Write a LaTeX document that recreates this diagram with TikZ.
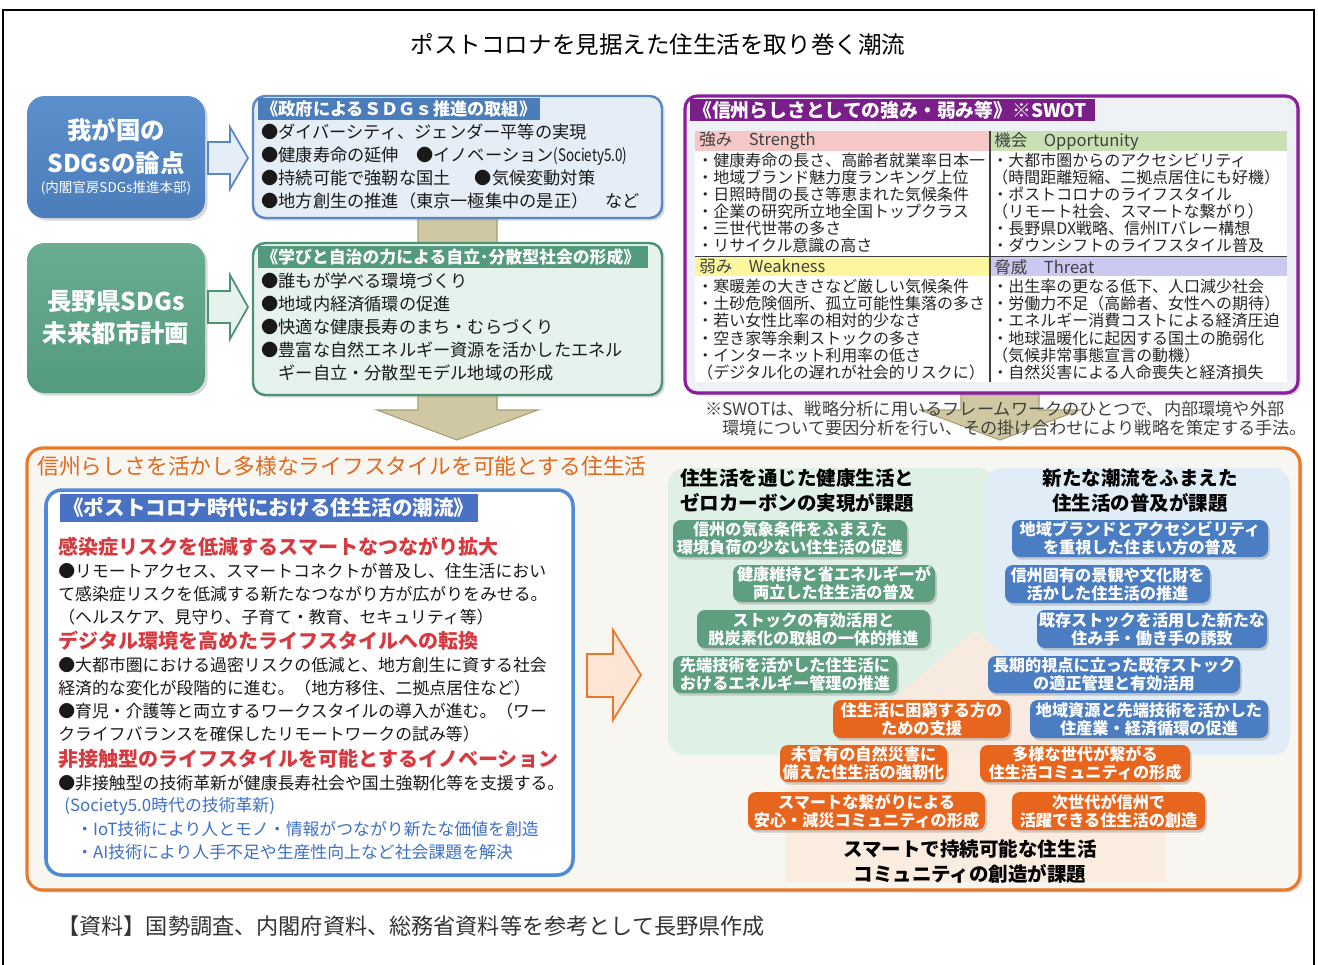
\documentclass[tikz,border=0pt]{standalone}
\usepackage{fontspec}
\setmainfont{Noto Sans CJK JP}
\usepackage{graphicx}
\usetikzlibrary{fit,shadows}

\newcommand{\fsz}[2]{\fontsize{#1}{#2}\selectfont}

\definecolor{sdgblue}{HTML}{4A7DBA}
\definecolor{sdgbluetop}{HTML}{5C8FCB}
\definecolor{sdgbluelight}{HTML}{E5EDF7}
\definecolor{sdgblueline}{HTML}{5B87C3}
\definecolor{sdggreen}{HTML}{549A7C}
\definecolor{sdggreentop}{HTML}{68AD8F}
\definecolor{sdggreenlight}{HTML}{E6F3EC}
\definecolor{sdggreenline}{HTML}{4E9274}
\definecolor{tanfill}{HTML}{CFC8A2}
\definecolor{tanline}{HTML}{A59D74}
\definecolor{swotpurple}{HTML}{8A1E9B}
\definecolor{swotband}{HTML}{7A1F8A}
\definecolor{swotbg}{HTML}{EEF1F5}
\definecolor{pinkhead}{HTML}{F6C7C7}
\definecolor{greenhead}{HTML}{C8E0B3}
\definecolor{yellowhead}{HTML}{FCF69E}
\definecolor{lavhead}{HTML}{CBC9F0}
\definecolor{lifeorange}{HTML}{E8792A}
\definecolor{lifebg}{HTML}{F8F6F1}
\definecolor{titleorange}{HTML}{E2681E}
\definecolor{trendblue}{HTML}{4E8AD8}
\definecolor{trendband}{HTML}{4A72C4}
\definecolor{redhead}{HTML}{D63A40}
\definecolor{bluetext}{HTML}{3E70C6}
\definecolor{pillgreen}{HTML}{5E9F80}
\definecolor{pillblue}{HTML}{4B7DC2}
\definecolor{pillorange}{HTML}{E8651E}
\definecolor{bgmint}{HTML}{DFF1E6}
\definecolor{bgsky}{HTML}{E0EDF6}
\definecolor{bgpeach}{HTML}{FCEADC}
\definecolor{arroworange}{HTML}{E8772A}
\definecolor{arrowpeach}{HTML}{FDE6D6}

\tikzset{
  boxshadow/.style={drop shadow={shadow xshift=1.5pt, shadow yshift=-1.5pt, opacity=0.3}},
  leftbox/.style={rounded corners=10pt, inner sep=0pt, boxshadow},
  lefttext/.style={text=white, font=\bfseries\fsz{13.9}{16}, inner sep=0pt},
  panel/.style={rounded corners=7pt, line width=1.4pt, inner sep=0pt, boxshadow},
  band/.style={inner sep=0pt},
  bandtext/.style={anchor=west, text=white, inner sep=0pt},
  bodytext/.style={anchor=west, align=left, inner sep=0pt, text=black!90},
  swottext/.style={anchor=west, align=left, inner sep=0pt, text=black!85, font=\fsz{9.1}{9.75}},
  swothead/.style={anchor=west, inner sep=0pt, text=black!75, font=\fsz{9.4}{10}},
  tanarrow/.style={fill=tanfill, draw=tanline, line width=0.6pt},
  pill/.style={rounded corners=4.5pt, inner sep=0pt,
    drop shadow={shadow xshift=1pt, shadow yshift=-1.5pt, opacity=0.35}},
  pilltext/.style={inner sep=0pt, align=center, text=white, font=\bfseries\fsz{9.2}{10.3}},
  greenpill/.style={pill, fill=pillgreen},
  bluepill/.style={pill, fill=pillblue},
  orangepill/.style={pill, fill=pillorange},
  heading/.style={inner sep=0pt, font=\bfseries\fsz{11.1}{14.2}}
}

\begin{document}
\begin{tikzpicture}[x=0.02cm, y=-0.02cm]
  \useasboundingbox (0,0) rectangle (1318,964);

  % outer frame
  \draw[black, line width=1.2pt] (3,10) rectangle (1314,990);

  % title
  \node (title) [font=\fsz{13.4}{15}, inner sep=0pt] at (658,44) {ポストコロナを見据えた住生活を取り巻く潮流};

  % tan arrows down to the life box
  \draw[tanarrow] (418,200) -- (497,200) -- (497,410) -- (538,410) -- (457,440) -- (377,410) -- (418,410) -- cycle;
  \draw[tanarrow] (961,380) -- (1039,380) -- (1039,410) -- (1080,410) -- (1000,440) -- (920,410) -- (961,410) -- cycle;

  % box: SDGs of Japan
  \node[leftbox, top color=sdgbluetop, bottom color=sdgblue, fit={(27,96) (205,218)}] (japanbox) {};
  \node[lefttext] (japan1) at (116,130) {我が国の};
  \node[lefttext] (japan2) at (116,163) {SDGsの論点};
  \node[text=white, font=\fsz{7.7}{9}, inner sep=0pt] (japan3) at (116,188) {(内閣官房SDGs推進本部)};

  % hollow arrow to government box
  \draw[sdgblueline, fill=sdgbluelight, line width=1pt] (208,142) -- (230,142) -- (230,127) -- (248,158) -- (230,189) -- (230,174) -- (208,174) -- cycle;

  % box: government SDGs
  \node[panel, draw=sdgblueline, fill=sdgbluelight, fit={(253,96) (662,218)}] (govbox) {};
  \fill[sdgblue] (258,98) rectangle (540,120);
  \node[bandtext, font=\bfseries\fsz{9.8}{11}] (govhead) at (261,109) {《政府によるＳＤＧｓ推進の取組》};
  \node[bodytext, font=\fsz{9.8}{13.1}] (govlist) at (261,166.5)
    {●ダイバーシティ、ジェンダー平等の実現\\
     ●健康寿命の延伸　●イノベーション\scalebox{0.78}[1]{(Society5.0)}\\
     ●持続可能で強靭な国土\hspace{1.4em}●気候変動対策\\
     ●地方創生の推進（東京一極集中の是正）　など};

  % box: Nagano SDGs
  \node[leftbox, top color=sdggreentop, bottom color=sdggreen, fit={(27,243) (205,393)}] (naganobox) {};
  \node[lefttext] (nagano1) at (116,302) {長野県SDGs};
  \node[lefttext] (nagano2) at (116,333) {未来都市計画};

  % hollow arrow to self-reliance box
  \draw[sdggreenline, fill=sdggreenlight, line width=1pt] (208,291) -- (230,291) -- (230,275) -- (248,307) -- (230,339) -- (230,323) -- (208,323) -- cycle;

  % box: self-reliant society
  \node[panel, draw=sdggreenline, fill=sdggreenlight, fit={(253,243) (662,395)}] (autobox) {};
  \fill[sdggreen] (258,246) rectangle (648,268);
  \node[bandtext, font=\bfseries\fsz{9.6}{11}] (autohead) at (261,257) {《学びと自治の力による自立･分散型社会の形成》};
  \node[bodytext, font=\fsz{9.8}{13.1}] (autolist) at (261,327)
    {●誰もが学べる環境づくり\\
     ●地域内経済循環の促進\\
     ●快適な健康長寿のまち・むらづくり\\
     ●豊富な自然エネルギー資源を活かしたエネル\\
     \hspace{1em}ギー自立・分散型モデル地域の形成};

  % box: SWOT
  \node[panel, draw=swotpurple, fill=swotbg, line width=1.8pt, fit={(685,96) (1298,393)}] (swotbox) {};
  \fill[swotband] (690,99) rectangle (1095,121);
  \node[bandtext, font=\bfseries\fsz{10.7}{12}] (swothd) at (693,110) {《信州らしさとしての強み・弱み等》※SWOT};

  % SWOT table
  \fill[white] (695,151) rectangle (1287,382);
  \node[band, fill=pinkhead, fit={(695,131) (990,151)}] (shead) {};
  \node[band, fill=greenhead, fit={(990,131) (1287,151)}] (ohead) {};
  \node[band, fill=yellowhead, fit={(695,257) (990,276)}] (whead) {};
  \node[band, fill=lavhead, fit={(990,257) (1287,276)}] (thead) {};
  \draw[black!75, line width=0.8pt] (695,256.5) -- (1287,256.5);
  \draw[black!75, line width=0.8pt] (990,131) -- (990,382);
  \node[swothead] (stitle) at (699,141) {強み　Strength};
  \node[swothead] (otitle) at (994,141) {機会　Opportunity};
  \node[swothead] (wtitle) at (699,267) {弱み　Weakness};
  \node[swothead] (ttitle) at (994,267) {脅威　Threat};
  \node[swottext] (sitems) at (697,203)
    {・健康寿命の長さ、高齢者就業率日本一\\
     ・地域ブランド魅力度ランキング上位\\
     ・日照時間の長さ等恵まれた気候条件\\
     ・企業の研究所立地全国トップクラス\\
     ・三世代世帯の多さ\\
     ・リサイクル意識の高さ};
  \node[swottext] (oitems) at (992,203)
    {・大都市圏からのアクセシビリティ\\
     （時間距離短縮、二拠点居住にも好機）\\
     ・ポストコロナのライフスタイル\\
     （リモート社会、スマートな繋がり）\\
     ・長野県DX戦略、信州ITバレー構想\\
     ・ダウンシフトのライフスタイル普及};
  \node[swottext] (witems) at (697,329.5)
    {・寒暖差の大きさなど厳しい気候条件\\
     ・土砂危険個所、孤立可能性集落の多さ\\
     ・若い女性比率の相対的少なさ\\
     ・空き家等余剰ストックの多さ\\
     ・インターネット利用率の低さ\\
     （デジタル化の遅れが社会的リスクに）};
  \node[swottext] (titems) at (992,329.5)
    {・出生率の更なる低下、人口減少社会\\
     ・労働力不足（高齢者、女性への期待）\\
     ・エネルギー消費コストによる経済圧迫\\
     ・地球温暖化に起因する国土の脆弱化\\
     （気候非常事態宣言の動機）\\
     ・自然災害による人命喪失と経済損失};

  % SWOT note
  \node[bodytext, text=black!75, font=\fsz{9.8}{10.9}] (swotnote) at (705,418.5)
    {※SWOTは、戦略分析に用いるフレームワークのひとつで、内部環境や外部\\
     \hspace{1em}環境について要因分析を行い、その掛け合わせにより戦略を策定する手法。};

  % box: life styles
  \node[panel, draw=lifeorange, fill=lifebg, line width=1.8pt, rounded corners=9pt, fit={(27,448) (1300,890)}] (lifebox) {};
  \node[anchor=west, inner sep=0pt, text=titleorange, font=\fsz{12.4}{14}] (lifetitle) at (37,466)
    {信州らしさを活かし多様なライフスタイルを可能とする住生活};

  % box: post-corona trends
  \node[draw=trendblue, fill=white, line width=2pt, rounded corners=9pt, inner sep=0pt, fit={(46,490) (573,875)}] (trendbox) {};
  \fill[trendband] (60,494) rectangle (478,522);
  \node[bandtext, font=\bfseries\fsz{11.7}{13}] (trendhead) at (63,508) {《ポストコロナ時代における住生活の潮流》};
  \node[bodytext, text=redhead, font=\bfseries\fsz{11.4}{13}] (trend1) at (58,547) {感染症リスクを低減するスマートなつながり拡大};
  \node[bodytext, font=\fsz{9.6}{13}] (trend1a) at (58,594)
    {●リモートアクセス、スマートコネクトが普及し、住生活におい\\
     て感染症リスクを低減する新たなつながり方が広がりをみせる。\\
     （ヘルスケア、見守り、子育て・教育、セキュリティ等）};
  \node[bodytext, text=redhead, font=\bfseries\fsz{11.4}{13}] (trend2) at (58,641) {デジタル環境を高めたライフスタイルへの転換};
  \node[bodytext, font=\fsz{9.6}{13.1}] (trend2a) at (58,699.5)
    {●大都市圏における過密リスクの低減と、地方創生に資する社会\\
     経済的な変化が段階的に進む。（地方移住、二拠点居住など）\\
     ●育児・介護等と両立するワークスタイルの導入が進む。（ワー\\
     クライフバランスを確保したリモートワークの試み等）};
  \node[bodytext, text=redhead, font=\bfseries\fsz{11.4}{13}] (trend3) at (58,759) {非接触型のライフスタイルを可能とするイノベーション};
  \node[bodytext, font=\fsz{9.6}{13}] (trend3a) at (58,783) {●非接触型の技術革新が健康長寿社会や国土強靭化等を支援する。};
  \node[bodytext, text=bluetext, font=\fsz{9.6}{13}] (tech0) at (64,806) {(Society5.0時代の技術革新)};
  \node[bodytext, text=bluetext, font=\fsz{9.6}{13}] (tech1) at (76,829) {・IoT技術により人とモノ・情報がつながり新たな価値を創造};
  \node[bodytext, text=bluetext, font=\fsz{9.6}{13}] (tech2) at (76,852) {・AI技術により人手不足や生産性向上など社会課題を解決};

  % hollow arrow to issues
  \draw[arroworange, fill=arrowpeach, line width=1pt] (587,654) -- (613,654) -- (613,630) -- (641,675) -- (613,720) -- (613,697) -- (587,697) -- cycle;

  % soft backgrounds of the issues
  \fill[bgmint, rounded corners=10pt] (668,468) rectangle (995,755);
  \fill[bgsky, rounded corners=10pt] (985,468) rectangle (1290,755);
  \fill[bgpeach, opacity=0.8] (975,630) -- (1165,790) -- (1165,882) -- (785,882) -- (785,790) -- cycle;

  % issue headings
  \node[heading, anchor=west, align=left] (issueL) at (680,490.5) {住生活を通じた健康生活と\\ゼロカーボンの実現が課題};
  \node[heading, align=center] (issueR) at (1140,490.5) {新たな潮流をふまえた\\住生活の普及が課題};
  \node[heading, align=center] (issueB) at (970,862) {スマートで持続可能な住生活\\コミュニティの創造が課題};

  % green pills
  \node[greenpill, fit={(673,520) (907,557)}] (g1) {};
  \node[pilltext] (g1t) at (g1.center) {信州の気象条件をふまえた\\環境負荷の少ない住生活の促進};
  \node[greenpill, fit={(733,565) (935,602)}] (g2) {};
  \node[pilltext] (g2t) at (g2.center) {健康維持と省エネルギーが\\両立した住生活の普及};
  \node[greenpill, fit={(697,610) (930,648)}] (g3) {};
  \node[pilltext] (g3t) at (g3.center) {ストックの有効活用と\\脱炭素化の取組の一体的推進};
  \node[greenpill, fit={(673,656) (897,693)}] (g4) {};
  \node[pilltext] (g4t) at (g4.center) {先端技術を活かした住生活に\\おけるエネルギー管理の推進};

  % blue pills
  \node[bluepill, fit={(1012,520) (1268,557)}] (b1) {};
  \node[pilltext] (b1t) at (b1.center) {地域ブランドとアクセシビリティ\\を重視した住まい方の普及};
  \node[bluepill, fit={(1005,565) (1210,603)}] (b2) {};
  \node[pilltext] (b2t) at (b2.center) {信州固有の景観や文化財を\\活かした住生活の推進};
  \node[bluepill, fit={(1037,610) (1267,648)}] (b3) {};
  \node[pilltext] (b3t) at (b3.center) {既存ストックを活用した新たな\\住み手・働き手の誘致};
  \node[bluepill, fit={(988,656) (1240,693)}] (b4) {};
  \node[pilltext] (b4t) at (b4.center) {長期的視点に立った既存ストック\\の適正管理と有効活用};
  \node[bluepill, fit={(1030,700) (1268,738)}] (b5) {};
  \node[pilltext] (b5t) at (b5.center) {地域資源と先端技術を活かした\\住産業・経済循環の促進};

  % orange pills
  \node[orangepill, fit={(833,700) (1010,738)}] (o1) {};
  \node[pilltext] (o1t) at (o1.center) {住生活に困窮する方の\\ための支援};
  \node[orangepill, fit={(780,745) (947,782)}] (o2) {};
  \node[pilltext] (o2t) at (o2.center) {未曾有の自然災害に\\備えた住生活の強靭化};
  \node[orangepill, fit={(980,745) (1190,782)}] (o3) {};
  \node[pilltext] (o3t) at (o3.center) {多様な世代が繋がる\\住生活コミュニティの形成};
  \node[orangepill, fit={(748,792) (985,830)}] (o4) {};
  \node[pilltext] (o4t) at (o4.center) {スマートな繋がりによる\\安心・減災コミュニティの形成};
  \node[orangepill, fit={(1012,792) (1205,830)}] (o5) {};
  \node[pilltext] (o5t) at (o5.center) {次世代が信州で\\活躍できる住生活の創造};

  % source
  \node[anchor=west, inner sep=0pt, text=black!80, font=\fsz{12.6}{14}] (source) at (57,926)
    {【資料】国勢調査、内閣府資料、総務省資料等を参考として長野県作成};
\end{tikzpicture}
\end{document}
